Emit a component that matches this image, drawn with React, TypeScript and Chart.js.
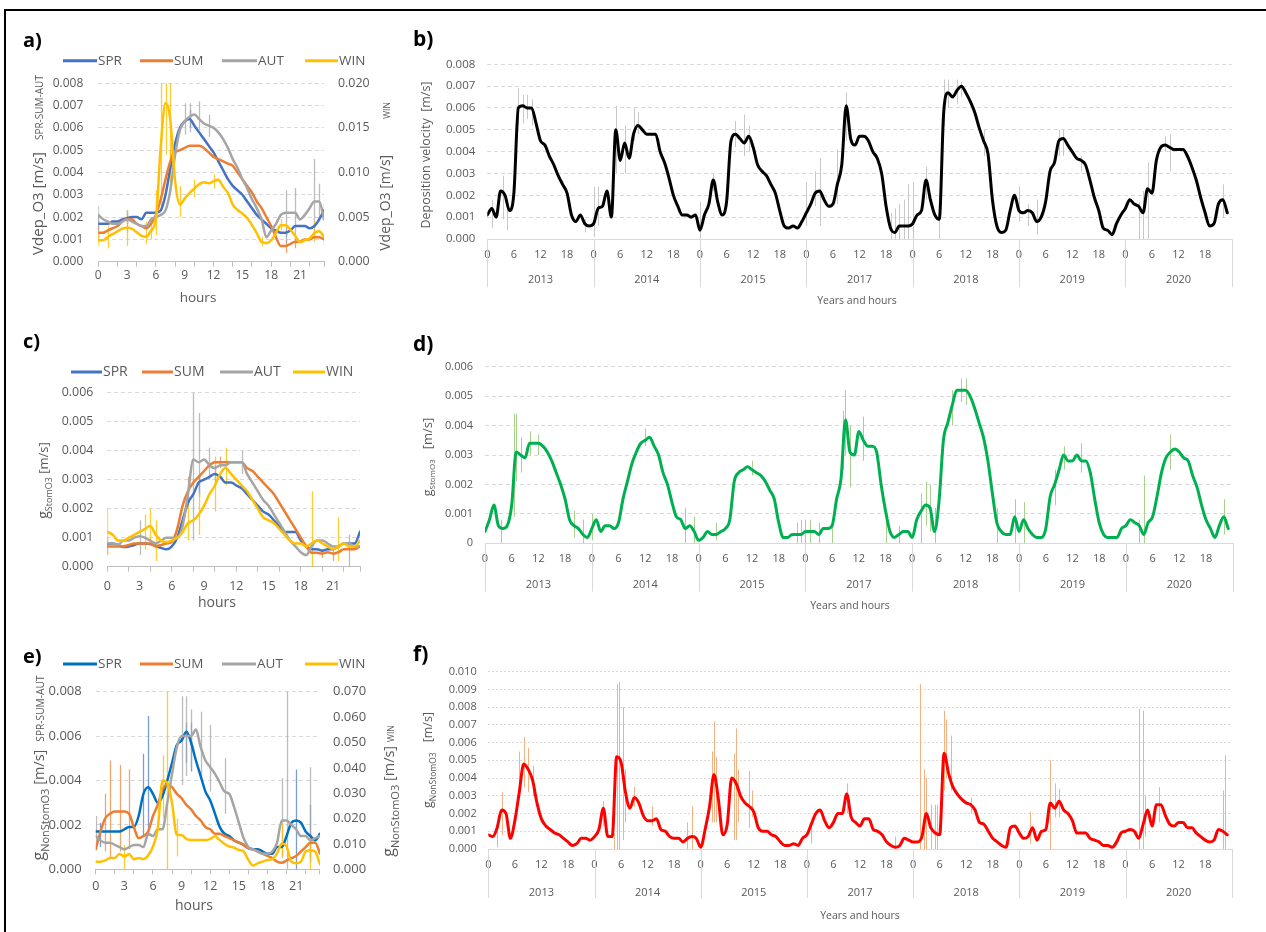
import React, { useEffect, useRef } from "react";
import { Chart, registerables } from "chart.js";

Chart.register(...registerables);

// ---------------- data ----------------
const SEASONS = ["SPR", "SUM", "AUT", "WIN"];
const YEARS = ["2013", "2014", "2015", "2017", "2018", "2019", "2020"];
const HALF_HOURS = [0, 0.5, 1, 1.5, 2, 2.5, 3, 3.5, 4, 4.5, 5, 5.5, 6, 6.5, 7, 7.5, 8, 8.5, 9, 9.5, 10, 10.5, 11, 11.5, 12, 12.5, 13, 13.5, 14, 14.5, 15, 15.5, 16, 16.5, 17, 17.5, 18, 18.5, 19, 19.5, 20, 20.5, 21, 21.5, 22, 22.5, 23, 23.5];
const HOURS = [0, 1, 2, 3, 4, 5, 6, 7, 8, 9, 10, 11, 12, 13, 14, 15, 16, 17, 18, 19, 20, 21, 22, 23];
const SMALL_HOUR_LABELS = [0, 3, 6, 9, 12, 15, 18, 21];
const YEAR_HOUR_LABELS = [0, 6, 12, 18];

// a) Vdep_O3 (SPR/SUM/AUT left axis, WIN right axis)
const A_SPR = [0.0017, 0.0017, 0.0017, 0.0018, 0.0018, 0.0019, 0.00195, 0.002, 0.002, 0.0019, 0.0022, 0.0022, 0.0022, 0.0023, 0.003, 0.0042, 0.0053, 0.006, 0.0063, 0.0064, 0.0061, 0.0058, 0.0055, 0.0052, 0.0049, 0.0045, 0.0041, 0.0037, 0.0034, 0.0032, 0.003, 0.0027, 0.0024, 0.0021, 0.0019, 0.0017, 0.0015, 0.0014, 0.0013, 0.0013, 0.0014, 0.0016, 0.0016, 0.0016, 0.0015, 0.0016, 0.0019, 0.0023];
const A_SUM = [0.0013, 0.0013, 0.0014, 0.0015, 0.0016, 0.0018, 0.0019, 0.0019, 0.0017, 0.0016, 0.0015, 0.0017, 0.0021, 0.0028, 0.0037, 0.0045, 0.0049, 0.005, 0.0051, 0.0052, 0.0052, 0.0052, 0.0051, 0.0049, 0.0047, 0.0046, 0.0045, 0.0044, 0.0043, 0.004, 0.0037, 0.0034, 0.0031, 0.0027, 0.0024, 0.002, 0.0016, 0.0011, 0.0007, 0.0007, 0.0008, 0.0009, 0.0009, 0.001, 0.001, 0.0011, 0.0011, 0.001];
const A_AUT = [0.0021, 0.0019, 0.0018, 0.0017, 0.0017, 0.0018, 0.0019, 0.0018, 0.0017, 0.0016, 0.0016, 0.0019, 0.002, 0.0021, 0.0023, 0.0032, 0.0048, 0.0059, 0.0063, 0.0065, 0.0066, 0.0064, 0.0062, 0.0061, 0.006, 0.0058, 0.0055, 0.0051, 0.0046, 0.0042, 0.0037, 0.0033, 0.0028, 0.0024, 0.0019, 0.0011, 0.0014, 0.0017, 0.0021, 0.0022, 0.0022, 0.0022, 0.0019, 0.0021, 0.0024, 0.0027, 0.0027, 0.0019];
const A_WIN = [0.0024, 0.0024, 0.0028, 0.0031, 0.0034, 0.0037, 0.0038, 0.0037, 0.0033, 0.0029, 0.0028, 0.0035, 0.0048, 0.0129, 0.0178, 0.0159, 0.009, 0.0064, 0.0071, 0.0077, 0.0082, 0.0087, 0.0089, 0.0088, 0.009, 0.0092, 0.0084, 0.0077, 0.0064, 0.0058, 0.0054, 0.0049, 0.0041, 0.0032, 0.0022, 0.0021, 0.0024, 0.0032, 0.0041, 0.0041, 0.0036, 0.0029, 0.0022, 0.0024, 0.0026, 0.0032, 0.0034, 0.0028];
const A_SPR_ERR = [[0, 0.0014, 0.0021], [3, 0.0017, 0.0023], [9.5, 0.006, 0.0068], [19.5, 0.0011, 0.0015], [23.5, 0.0019, 0.0026]];
const A_SUM_ERR = [[0, 0.001, 0.0016], [7.5, 0.004, 0.005], [19.5, 0.0004, 0.001], [20.5, 0.0006, 0.0012], [23.5, 0.0007, 0.0013]];
const A_AUT_ERR = [[0, 0.0017, 0.0025], [3, 0.0013, 0.0021], [9, 0.0057, 0.0071], [9.5, 0.0058, 0.0071], [10.5, 0.0059, 0.0072], [11.5, 0.0056, 0.0066], [19.5, 0.0008, 0.0032], [20.5, 0.0012, 0.0033], [22.5, 0.0012, 0.0046], [23, 0.0018, 0.0035]];
const A_WIN_ERR = [[0, 0.0018, 0.0032], [1, 0.0015, 0.004], [3, 0.0018, 0.0058], [5, 0.002, 0.0045], [5.5, 0.0025, 0.005], [6, 0.003, 0.008], [6.5, 0.006, 0.02], [7, 0.012, 0.02], [7.5, 0.008, 0.02], [8.5, 0.005, 0.0085], [10, 0.0072, 0.0092], [12, 0.0082, 0.0098], [17, 0.0017, 0.0028], [19, 0.0035, 0.0048], [22.5, 0.0022, 0.0045]];

// c) gStomO3
const C_SPR = [0.00078, 0.0008, 0.00075, 0.00068, 0.0007, 0.00075, 0.0008, 0.0008, 0.00078, 0.00072, 0.00065, 0.0006, 0.0007, 0.001, 0.0016, 0.0022, 0.0025, 0.0029, 0.003, 0.0031, 0.0032, 0.0031, 0.0029, 0.0029, 0.0028, 0.0027, 0.0025, 0.0023, 0.0021, 0.0019, 0.0018, 0.0016, 0.0014, 0.0012, 0.0012, 0.0012, 0.0009, 0.0007, 0.0006, 0.0006, 0.00055, 0.0006, 0.0006, 0.0007, 0.0008, 0.0008, 0.0008, 0.0012];
const C_SUM = [0.0007, 0.0007, 0.0007, 0.0007, 0.00075, 0.0008, 0.0008, 0.0008, 0.0008, 0.0007, 0.00075, 0.0008, 0.00086, 0.0013, 0.0021, 0.0026, 0.0029, 0.0031, 0.0033, 0.0035, 0.0036, 0.0036, 0.0036, 0.0036, 0.0036, 0.0036, 0.0034, 0.0033, 0.0031, 0.0029, 0.0027, 0.0025, 0.0022, 0.0019, 0.0016, 0.0013, 0.001, 0.0007, 0.00048, 0.00048, 0.00045, 0.0005, 0.00045, 0.0005, 0.0006, 0.0006, 0.0006, 0.0007];
const C_AUT = [0.0008, 0.0008, 0.00075, 0.0009, 0.0009, 0.001, 0.00105, 0.001, 0.0009, 0.0008, 0.0009, 0.001, 0.001, 0.001, 0.0014, 0.0025, 0.0037, 0.0036, 0.0037, 0.0035, 0.0034, 0.0035, 0.0035, 0.0036, 0.0036, 0.0036, 0.0032, 0.0029, 0.0026, 0.0023, 0.0021, 0.0018, 0.0015, 0.0012, 0.0009, 0.0007, 0.0005, 0.0004, 0.0007, 0.0009, 0.0009, 0.0008, 0.0007, 0.0007, 0.0008, 0.0008, 0.0007, 0.0007];
const C_WIN = [0.0012, 0.0011, 0.0009, 0.0009, 0.001, 0.0011, 0.0012, 0.0013, 0.0014, 0.0011, 0.0009, 0.00085, 0.0009, 0.001, 0.0012, 0.0015, 0.0016, 0.0018, 0.0021, 0.0025, 0.0028, 0.0032, 0.0034, 0.0032, 0.003, 0.0028, 0.0026, 0.0023, 0.002, 0.0017, 0.0016, 0.0015, 0.0013, 0.0011, 0.0009, 0.0008, 0.0008, 0.0007, 0.0008, 0.0009, 0.0008, 0.0007, 0.0006, 0.0007, 0.0008, 0.0007, 0.0007, 0.0009];
const C_SPR_ERR = [[8.5, 0.0025, 0.0032], [10, 0.0029, 0.0035], [23.5, 0.001, 0.0013]];
const C_SUM_ERR = [[0, 0.0004, 0.001], [7.5, 0.0021, 0.0031], [10.5, 0.0034, 0.0038], [20, 0.0003, 0.0006], [21, 0.0002, 0.0006]];
const C_AUT_ERR = [[3, 0.0004, 0.0016], [8, 0.0009, 0.006], [8.5, 0.0024, 0.0053], [9.5, 0.003, 0.0041], [12.5, 0.0032, 0.004], [22.5, 0.0, 0.0011]];
const C_WIN_ERR = [[0, 0.0004, 0.002], [3.5, 0.0006, 0.0018], [4, 0.0008, 0.002], [4.5, 0.0002, 0.0016], [7.5, 0.0009, 0.0022], [8.5, 0.0011, 0.0026], [10, 0.0019, 0.0038], [11, 0.0028, 0.0041], [19, 0.0, 0.0026], [21.5, 0.0002, 0.0017]];

// e) gNonStomO3 (SPR/SUM/AUT left axis, WIN right axis)
const E_SPR = [0.0017, 0.0017, 0.0017, 0.0017, 0.0017, 0.0017, 0.0018, 0.0019, 0.0019, 0.0024, 0.0034, 0.0037, 0.0034, 0.003, 0.0033, 0.004, 0.0048, 0.0056, 0.0058, 0.0062, 0.0057, 0.0049, 0.0042, 0.0035, 0.0031, 0.0025, 0.0019, 0.0016, 0.0015, 0.0013, 0.0012, 0.0011, 0.00095, 0.0009, 0.0009, 0.0008, 0.0007, 0.0007, 0.001, 0.001, 0.0015, 0.0021, 0.0022, 0.0021, 0.0017, 0.0015, 0.0013, 0.0016];
const E_SUM = [0.0009, 0.0017, 0.0023, 0.0025, 0.0026, 0.0026, 0.0026, 0.0025, 0.0019, 0.0014, 0.0015, 0.0017, 0.0024, 0.0029, 0.0036, 0.0038, 0.0037, 0.0034, 0.0032, 0.0029, 0.0027, 0.0024, 0.0022, 0.0019, 0.0018, 0.0016, 0.0016, 0.0015, 0.0014, 0.0013, 0.0012, 0.0011, 0.00095, 0.0009, 0.0008, 0.0007, 0.0006, 0.0005, 0.00035, 0.0003, 0.0004, 0.0005, 0.0006, 0.0008, 0.001, 0.0012, 0.0012, 0.0007];
const E_AUT = [0.0015, 0.0013, 0.0012, 0.0012, 0.0011, 0.001, 0.0009, 0.001, 0.0011, 0.0011, 0.001, 0.0016, 0.0015, 0.0018, 0.0018, 0.003, 0.0043, 0.0055, 0.006, 0.006, 0.006, 0.0063, 0.0055, 0.0049, 0.0046, 0.0043, 0.0039, 0.0035, 0.0034, 0.0028, 0.0021, 0.0014, 0.001, 0.0009, 0.0008, 0.0007, 0.0007, 0.0008, 0.0012, 0.0022, 0.0022, 0.002, 0.0018, 0.0015, 0.0015, 0.0013, 0.0014, 0.0015];
const E_WIN = [0.003, 0.003, 0.0035, 0.0045, 0.0045, 0.006, 0.005, 0.006, 0.004, 0.0045, 0.004, 0.0055, 0.009, 0.016, 0.035, 0.034, 0.026, 0.0135, 0.0135, 0.012, 0.0115, 0.0115, 0.0115, 0.0115, 0.012, 0.013, 0.0115, 0.01, 0.009, 0.0085, 0.0076, 0.007, 0.0037, 0.0015, 0.0024, 0.003, 0.0037, 0.004, 0.0063, 0.0102, 0.009, 0.003, 0.0024, 0.003, 0.007, 0.0075, 0.007, 0.002];
const E_SPR_ERR = [[0.5, 0.001, 0.0021], [5, 0.0015, 0.0052], [5.5, 0.0015, 0.0069], [9.5, 0.0048, 0.0066], [10, 0.0044, 0.0066], [21, 0.0, 0.0045], [22.5, 0.0005, 0.0029]];
const E_SUM_ERR = [[1, 0.0008, 0.0034], [1.5, 0.0005, 0.0049], [2.5, 0.0008, 0.0047], [3.5, 0.0009, 0.0045]];
const E_AUT_ERR = [[0, 0.001, 0.0024], [9, 0.0038, 0.0078], [9.5, 0.0042, 0.0078], [10, 0.0045, 0.0072], [11, 0.004, 0.0071], [12, 0.0035, 0.0065], [13.5, 0.0025, 0.005], [19.5, 0.0005, 0.0041], [20, 0.0, 0.008], [22.5, 0.0003, 0.0046]];
const E_WIN_ERR = [[3, 0.0, 0.0096], [7, 0.02, 0.045], [7.5, 0.0, 0.07], [8.5, 0.005, 0.02], [19.5, 0.005, 0.018], [22.5, 0.0, 0.012]];

// b) Deposition velocity per year (hourly)
const VDEP_2013 = [0.0011, 0.0014, 0.001, 0.0022, 0.002, 0.0013, 0.0021, 0.006, 0.0061, 0.006, 0.006, 0.0053, 0.0045, 0.0043, 0.0038, 0.0034, 0.0029, 0.0025, 0.0021, 0.0011, 0.0008, 0.0011, 0.0007, 0.0006];
const VDEP_2014 = [0.0007, 0.0014, 0.0015, 0.0022, 0.001, 0.005, 0.0036, 0.0044, 0.0037, 0.0048, 0.0052, 0.005, 0.0048, 0.0048, 0.0048, 0.004, 0.0035, 0.0028, 0.002, 0.0015, 0.0011, 0.0011, 0.001, 0.0011];
const VDEP_2015 = [0.0004, 0.0011, 0.0016, 0.0027, 0.0017, 0.0011, 0.0017, 0.0045, 0.0048, 0.0046, 0.0044, 0.0047, 0.0042, 0.0034, 0.0031, 0.0029, 0.0025, 0.0021, 0.0013, 0.0006, 0.0005, 0.0006, 0.0005, 0.0008];
const VDEP_2017 = [0.0012, 0.0016, 0.0021, 0.0022, 0.0018, 0.0015, 0.0016, 0.0025, 0.0034, 0.0061, 0.0046, 0.0043, 0.0047, 0.0047, 0.0045, 0.004, 0.0037, 0.003, 0.0015, 0.0005, 0.0003, 0.0006, 0.0006, 0.0006];
const VDEP_2018 = [0.0007, 0.0011, 0.0013, 0.0027, 0.0018, 0.0011, 0.0009, 0.0058, 0.0067, 0.0065, 0.0068, 0.007, 0.0067, 0.0063, 0.0058, 0.0051, 0.0045, 0.0039, 0.0018, 0.0006, 0.0003, 0.0004, 0.0013, 0.002];
const VDEP_2019 = [0.0013, 0.0012, 0.0013, 0.0012, 0.0008, 0.001, 0.0017, 0.0031, 0.0035, 0.0045, 0.0046, 0.0043, 0.004, 0.0037, 0.0036, 0.0034, 0.0027, 0.0019, 0.0013, 0.0005, 0.0004, 0.0002, 0.0007, 0.0011];
const VDEP_2020 = [0.0014, 0.0018, 0.0016, 0.0015, 0.0012, 0.0023, 0.0021, 0.0036, 0.0042, 0.0043, 0.0042, 0.0041, 0.0041, 0.0041, 0.0038, 0.0033, 0.0027, 0.0019, 0.0012, 0.0006, 0.0007, 0.0016, 0.0018, 0.0012];
const VDEP_ERR = [
  [0, 1, 0.0005, 0.0018], [0, 3.5, 0.0009, 0.0029], [0, 4.5, 0.0004, 0.0017], [0, 7, 0.0052, 0.0069], [0, 8, 0.0053, 0.0066], [0, 9, 0.0055, 0.0066], [0, 10, 0.0052, 0.0064], [0, 22, 0.0003, 0.0009],
  [1, 0, 0.0001, 0.0024], [1, 1, 0.0006, 0.0024], [1, 5, 0.003, 0.0061], [1, 7, 0.003, 0.0052], [1, 9, 0.0045, 0.006], [1, 10, 0.0048, 0.0058],
  [2, 0, 0.0, 0.0017], [2, 3, 0.0022, 0.003], [2, 8, 0.0042, 0.0054], [2, 10, 0.0038, 0.0057], [2, 11, 0.004, 0.0052],
  [3, 0, 0.0006, 0.0026], [3, 2, 0.0015, 0.0031], [3, 3, 0.0006, 0.0037], [3, 7, 0.0016, 0.0041], [3, 9, 0.0045, 0.0067], [3, 19, 0.0, 0.0012], [3, 20, 0.0, 0.0014], [3, 21, 0.0, 0.0016], [3, 22, 0.0, 0.0018], [3, 23, 0.0, 0.0025],
  [4, 0, 0.0, 0.0026], [4, 3, 0.0018, 0.0033], [4, 6, 0.0, 0.0009], [4, 7, 0.0052, 0.0073], [4, 8, 0.006, 0.0073], [4, 10, 0.0062, 0.0073], [4, 11, 0.0065, 0.0072], [4, 16, 0.0038, 0.005],
  [5, 0, 0.0008, 0.0024], [5, 2, 0.0006, 0.0016], [5, 4, 0.0002, 0.0018], [5, 9, 0.0038, 0.005], [5, 10, 0.0038, 0.005], [5, 14, 0.0031, 0.0038],
  [6, 3, 0.0, 0.0017], [6, 4, 0.0, 0.0022], [6, 5, 0.0, 0.0035], [6, 9, 0.004, 0.0047], [6, 10, 0.0031, 0.0048], [6, 22, 0.001, 0.0025],
];

// d) gStomO3 per year (hourly)
const GSTO_2013 = [0.0004, 0.0008, 0.0013, 0.0006, 0.0005, 0.0006, 0.0013, 0.0031, 0.003, 0.0029, 0.0034, 0.0034, 0.0034, 0.0033, 0.0031, 0.0028, 0.0024, 0.002, 0.0015, 0.0008, 0.0006, 0.0005, 0.0003, 0.0002];
const GSTO_2014 = [0.0005, 0.0008, 0.0004, 0.0006, 0.0006, 0.0005, 0.0007, 0.0015, 0.0021, 0.0027, 0.0031, 0.0034, 0.0035, 0.0036, 0.0033, 0.003, 0.0024, 0.002, 0.0014, 0.0009, 0.0008, 0.0005, 0.0006, 0.0004];
const GSTO_2015 = [0.0001, 0.0002, 0.0004, 0.0003, 0.0003, 0.0004, 0.0005, 0.0008, 0.0021, 0.0024, 0.0025, 0.0026, 0.0025, 0.0024, 0.0023, 0.0021, 0.0018, 0.0015, 0.0007, 0.0002, 0.0002, 0.0003, 0.0003, 0.0003];
const GSTO_2017 = [0.0004, 0.0004, 0.0004, 0.0003, 0.0005, 0.0005, 0.0006, 0.0015, 0.0022, 0.0042, 0.0031, 0.003, 0.0038, 0.0035, 0.0033, 0.0033, 0.0031, 0.002, 0.0011, 0.0004, 0.0002, 0.0003, 0.0004, 0.0004];
const GSTO_2018 = [0.0002, 0.0008, 0.0011, 0.0013, 0.0012, 0.0004, 0.0014, 0.0035, 0.0041, 0.0047, 0.0052, 0.0052, 0.0052, 0.005, 0.0046, 0.0041, 0.0036, 0.0028, 0.0017, 0.0007, 0.0004, 0.0003, 0.0003, 0.0009];
const GSTO_2019 = [0.0004, 0.0008, 0.0005, 0.0003, 0.0002, 0.0002, 0.0005, 0.0016, 0.002, 0.0025, 0.003, 0.0028, 0.0028, 0.003, 0.0028, 0.0028, 0.0024, 0.0015, 0.0007, 0.0003, 0.0002, 0.0002, 0.0002, 0.0005];
const GSTO_2020 = [0.0006, 0.0008, 0.0007, 0.0006, 0.0003, 0.0007, 0.0009, 0.0016, 0.0024, 0.0029, 0.0031, 0.0032, 0.0031, 0.0029, 0.0028, 0.0023, 0.0019, 0.0013, 0.0008, 0.0005, 0.0002, 0.0006, 0.0009, 0.0005];
const GSTO_ERR = [
  [0, 3.5, 0.0, 0.0008], [0, 6.5, 0.0009, 0.0044], [0, 7, 0.0021, 0.0044], [0, 8, 0.0024, 0.0036], [0, 10, 0.003, 0.0038], [0, 12, 0.003, 0.0037], [0, 20, 0.0002, 0.0011], [0, 22, 0.0, 0.0008],
  [1, 0, 0.0001, 0.001], [1, 12, 0.0033, 0.0039], [1, 21, 0.0, 0.0012], [1, 23, 0.0, 0.0009],
  [2, 4, 0.0001, 0.0007], [2, 12, 0.0023, 0.0028], [2, 22, 0.0, 0.0007], [2, 23, 0.0, 0.0008],
  [3, 0, 0.0, 0.0008], [3, 1, 0.0, 0.0008], [3, 3, 0.0, 0.0007], [3, 6, 0.0, 0.0008], [3, 8.5, 0.0025, 0.0045], [3, 9, 0.003, 0.0052], [3, 10, 0.0019, 0.004], [3, 13, 0.0028, 0.0043], [3, 18, 0.0, 0.0009], [3, 21, 0.0, 0.0006],
  [4, 2, 0.0, 0.0017], [4, 3, 0.0006, 0.0021], [4, 4, 0.0004, 0.002], [4, 5, 0.0, 0.0012], [4, 9, 0.004, 0.0052], [4, 11, 0.0048, 0.0056], [4, 12, 0.0047, 0.0056], [4, 19, 0.0, 0.0012], [4, 23, 0.0, 0.0015],
  [5, 1, 0.0, 0.0014], [5, 8, 0.0013, 0.0025], [5, 10, 0.0025, 0.0033], [5, 14, 0.0024, 0.0034],
  [6, 3, 0.0, 0.0008], [6, 4, 0.0, 0.0023], [6, 10, 0.0025, 0.0037], [6, 22, 0.0003, 0.0015],
];

// f) gNonStomO3 per year (hourly)
const GNS_2013 = [0.0008, 0.0007, 0.0012, 0.0022, 0.002, 0.0006, 0.0016, 0.0032, 0.0048, 0.0045, 0.0039, 0.0026, 0.0017, 0.0013, 0.0011, 0.0009, 0.0008, 0.0006, 0.0004, 0.0002, 0.0003, 0.0006, 0.0006, 0.0005];
const GNS_2014 = [0.0007, 0.0011, 0.0023, 0.0007, 0.0007, 0.0052, 0.0049, 0.0032, 0.0023, 0.0029, 0.0026, 0.0019, 0.0016, 0.0016, 0.0017, 0.0011, 0.001, 0.0007, 0.0006, 0.0006, 0.0004, 0.0006, 0.0007, 0.0006];
const GNS_2015 = [0.0001, 0.0011, 0.0024, 0.0042, 0.0028, 0.0008, 0.0014, 0.004, 0.0037, 0.003, 0.0026, 0.0024, 0.0021, 0.0012, 0.001, 0.001, 0.0008, 0.0007, 0.0004, 0.0002, 0.0002, 0.0003, 0.0002, 0.0006];
const GNS_2017 = [0.0008, 0.0014, 0.002, 0.0022, 0.0016, 0.0012, 0.0015, 0.002, 0.002, 0.0031, 0.0018, 0.0015, 0.0013, 0.0017, 0.0017, 0.0011, 0.001, 0.0008, 0.0004, 0.0002, 0.0001, 0.0002, 0.0006, 0.0005];
const GNS_2018 = [0.0004, 0.0004, 0.0007, 0.002, 0.0012, 0.0009, 0.0008, 0.0054, 0.0043, 0.0035, 0.0031, 0.0028, 0.0026, 0.0025, 0.0022, 0.0015, 0.0014, 0.001, 0.0006, 0.0004, 0.0002, 0.0001, 0.0012, 0.0013];
const GNS_2019 = [0.0009, 0.0006, 0.0007, 0.0012, 0.0005, 0.001, 0.0011, 0.0026, 0.0023, 0.0027, 0.0022, 0.002, 0.0016, 0.0009, 0.0009, 0.0009, 0.0006, 0.0005, 0.0004, 0.0002, 0.0002, 0.0001, 0.0004, 0.0009];
const GNS_2020 = [0.001, 0.0011, 0.001, 0.0006, 0.0014, 0.0022, 0.0013, 0.0025, 0.0025, 0.0019, 0.0014, 0.0013, 0.0015, 0.0015, 0.0012, 0.0012, 0.0009, 0.0007, 0.0005, 0.0004, 0.0005, 0.0011, 0.001, 0.0008];
const GNS_ERR = [
  [0, 2, 0.0001, 0.0011], [0, 3, 0.0008, 0.0032], [0, 7, 0.0035, 0.0055], [0, 8, 0.0035, 0.0063], [0, 9, 0.0032, 0.0057], [0, 10, 0.003, 0.0047],
  [1, 2, 0.0013, 0.0027], [1, 4.5, 0.0, 0.0009], [1, 5, 0.0, 0.0093], [1, 5.5, 0.0, 0.0094], [1, 6.5, 0.0005, 0.008], [1, 7, 0.0015, 0.0045], [1, 9, 0.0024, 0.0035], [1, 13, 0.0013, 0.0024], [1, 21, 0.0, 0.0015], [1, 22, 0.0, 0.0024],
  [2, 2.5, 0.0015, 0.0055], [2, 3, 0.0015, 0.0072], [2, 3.5, 0.0015, 0.0052], [2, 7.5, 0.0005, 0.0054], [2, 8, 0.0005, 0.0068], [2, 8.5, 0.0015, 0.0045], [2, 11, 0.0012, 0.0044], [2, 11.5, 0.0018, 0.0033],
  [3, 1, 0.0003, 0.0016], [3, 9, 0.002, 0.0037], [3, 20, 0.0, 0.0007],
  [4, 1.6, 0.0, 0.0093], [4, 2.5, 0.0, 0.0045], [4, 3, 0.0, 0.004], [4, 4, 0.0, 0.0025], [4, 5, 0.0, 0.0025], [4, 5.5, 0.0, 0.0025], [4, 7, 0.0033, 0.0078], [4, 7.5, 0.004, 0.0073], [4, 8.5, 0.0033, 0.0064], [4, 13, 0.002, 0.0029],
  [5, 2.5, 0.0003, 0.0021], [5, 7, 0.0, 0.005], [5, 8, 0.0018, 0.0037], [5, 9, 0.0018, 0.0034],
  [6, 3, 0.0, 0.0079], [6, 4, 0.0, 0.0078], [6, 4.5, 0.0007, 0.003], [6, 7.5, 0.0015, 0.0035], [6, 22, 0.0, 0.0033], [6, 22.5, 0.0, 0.0053],
];

// ---------------- styling ----------------
const W = 1266;
const H = 932;
const YW = 60;
const XH = 40;
const FONT = "'Open Sans', 'DejaVu Sans', sans-serif";
const TXT = "#595959";
const GRID = "#D9D9D9";
const AXIS = "#BFBFBF";
const SEASON_COLORS = ["#4472C4", "#ED7D31", "#A5A5A5", "#FFC000"];
const SEASON_ERR = ["rgba(68,114,196,0.7)", "rgba(237,125,49,0.7)", "rgba(165,165,165,0.75)", "rgba(255,192,0,0.8)"];

const halfPts = (vals: number[]) => HALF_HOURS.map((h, i) => ({ x: h, y: vals[i] }));
const yearPts = (years: number[][]) =>
  years.flatMap((vals, yi) => HOURS.map((h, i) => ({ x: yi * 24 + h, y: vals[i] })));
const yearErr = (list: number[][]) => list.map((e) => [e[0] * 24 + e[1], e[2], e[3]]);

function drawRich(ctx: any, tx: any) {
  const { parts, x, y, rot = 0, color = TXT, align = "center" } = tx;
  ctx.save();
  ctx.translate(x, y);
  if (rot) ctx.rotate((rot * Math.PI) / 180);
  ctx.fillStyle = color;
  ctx.textBaseline = "alphabetic";
  ctx.textAlign = "left";
  const fontOf = (p: any) => `${p.w || "normal"} ${p.s}px ${FONT}`;
  const widths = parts.map((p: any) => {
    if (p.gap) return p.gap;
    ctx.font = fontOf(p);
    return ctx.measureText(p.t).width;
  });
  const total = widths.reduce((a: number, b: number) => a + b, 0);
  let cx = align === "center" ? -total / 2 : align === "right" ? -total : 0;
  parts.forEach((p: any, i: number) => {
    if (!p.gap) {
      ctx.font = fontOf(p);
      ctx.fillText(p.t, cx, p.sub ? p.s * 0.45 : 0);
    }
    cx += widths[i];
  });
  ctx.restore();
}

function makeDecor(cfg: any) {
  return {
    id: "decor",
    beforeDatasetsDraw(chart: any) {
      const { ctx, chartArea: a } = chart;
      ctx.save();
      ctx.beginPath();
      ctx.rect(a.left, a.top - 1, a.right - a.left, a.bottom - a.top + 1);
      ctx.clip();
      chart.data.datasets.forEach((ds: any) => {
        if (!ds.errorBars) return;
        const ys = chart.scales[ds.yAxisID || "y"];
        const xs = chart.scales.x;
        ctx.strokeStyle = ds.errorColor;
        ctx.lineWidth = ds.errorWidth || 1;
        ds.errorBars.forEach((e: number[]) => {
          const px = Math.round(xs.getPixelForValue(e[0])) + 0.5;
          ctx.beginPath();
          ctx.moveTo(px, ys.getPixelForValue(e[1]));
          ctx.lineTo(px, ys.getPixelForValue(e[2]));
          ctx.stroke();
        });
      });
      ctx.restore();
    },
    afterDraw(chart: any) {
      const ctx = chart.ctx;
      ctx.save();
      if (cfg.years) {
        const Y = cfg.years;
        const xs = chart.scales.x;
        const b = chart.chartArea.bottom;
        ctx.strokeStyle = GRID;
        ctx.lineWidth = 1;
        for (let i = 0; i <= Y.labels.length; i++) {
          const px = Math.round(xs.getPixelForValue(i * 24)) + 0.5;
          ctx.beginPath();
          ctx.moveTo(px, b);
          ctx.lineTo(px, b + Y.sepLen);
          ctx.stroke();
        }
        ctx.fillStyle = TXT;
        ctx.font = `${Y.size}px ${FONT}`;
        ctx.textAlign = "center";
        ctx.textBaseline = "alphabetic";
        Y.labels.forEach((lab: string, i: number) => {
          ctx.fillText(lab, xs.getPixelForValue(i * 24 + 12), Y.baseline);
        });
      }
      if (cfg.legend) {
        const L = cfg.legend;
        chart.data.datasets.forEach((ds: any, i: number) => {
          const [x1, x2] = L.xs[i];
          ctx.strokeStyle = ds.borderColor;
          ctx.lineWidth = 3;
          ctx.beginPath();
          ctx.moveTo(x1, L.y);
          ctx.lineTo(x2, L.y);
          ctx.stroke();
          ctx.fillStyle = TXT;
          ctx.font = `${L.size}px ${FONT}`;
          ctx.textAlign = "left";
          ctx.textBaseline = "middle";
          ctx.fillText(ds.label, x2 + 1, L.y + 0.5);
        });
      }
      (cfg.texts || []).forEach((t: any) => drawRich(ctx, t));
      ctx.restore();
    },
  };
}

function yScale(o: any) {
  return {
    type: "linear",
    position: o.pos || "left",
    min: 0,
    max: o.max,
    afterFit: (s: any) => {
      s.width = YW;
    },
    ticks: {
      stepSize: o.step,
      color: TXT,
      font: { family: FONT, size: o.size },
      padding: o.pad,
      callback: o.fmt || ((v: any) => Number(v).toFixed(3)),
    },
    grid: {
      drawOnChartArea: o.grid !== false,
      drawTicks: false,
      color: (c: any) => (c.tick && c.tick.value === 0 ? "rgba(0,0,0,0)" : GRID),
      lineWidth: 1,
    },
    border: { display: false, dash: o.dash || [4, 3] },
  };
}

function baseOptions(area: any, hasY2: boolean, scales: any) {
  return {
    responsive: false,
    animation: false,
    devicePixelRatio: 1,
    events: [],
    layout: {
      padding: {
        left: area.l - YW,
        right: W - area.r - (hasY2 ? YW : 0),
        top: area.t,
        bottom: H - area.b - XH,
      },
    },
    plugins: { legend: { display: false }, tooltip: { enabled: false }, title: { display: false } },
    elements: { point: { radius: 0 }, line: { borderJoinStyle: "round", borderCapStyle: "round" } },
    scales,
  };
}

function smallX(fontSize: number, pad: number) {
  return {
    type: "linear",
    min: 0,
    max: 23.5,
    afterFit: (s: any) => {
      s.height = XH;
    },
    ticks: {
      stepSize: 1,
      autoSkip: false,
      maxRotation: 0,
      minRotation: 0,
      color: TXT,
      font: { family: FONT, size: fontSize },
      padding: pad,
      callback: (v: any) => (SMALL_HOUR_LABELS.includes(v) ? String(v) : ""),
    },
    grid: {
      drawOnChartArea: false,
      drawTicks: true,
      tickLength: 5,
      color: (c: any) => {
        const v = c.tick ? c.tick.value : -1;
        return v % 2 === 0 || v === 23.5 ? AXIS : "rgba(0,0,0,0)";
      },
    },
    border: { display: true, color: AXIS, width: 1 },
  };
}

function yearX() {
  return {
    type: "linear",
    min: 0,
    max: YEARS.length * 24,
    afterFit: (s: any) => {
      s.height = XH;
    },
    ticks: {
      stepSize: 6,
      autoSkip: false,
      maxRotation: 0,
      minRotation: 0,
      color: TXT,
      font: { family: FONT, size: 11 },
      padding: 9,
      callback: (v: any) => (v < YEARS.length * 24 && YEAR_HOUR_LABELS.includes(v % 24) ? String(v % 24) : ""),
    },
    grid: { drawOnChartArea: false, drawTicks: false },
    border: { display: true, color: GRID, width: 1 },
  };
}

function seasonSets(series: number[][], errs: number[][][], colors: string[], winAxis: string) {
  return series.map((vals, i) => ({
    label: SEASONS[i],
    data: halfPts(vals),
    borderColor: colors[i],
    backgroundColor: colors[i],
    borderWidth: 2.5,
    yAxisID: i === 3 ? winAxis : "y",
    cubicInterpolationMode: "monotone",
    order: 3 - i,
    errorBars: errs[i],
    errorColor: SEASON_ERR[i],
    errorWidth: 1.3,
  }));
}

function cfgA() {
  const area = { l: 98.3, r: 324, t: 83.3, b: 261.7 };
  return {
    type: "line",
    data: { datasets: seasonSets([A_SPR, A_SUM, A_AUT, A_WIN], [A_SPR_ERR, A_SUM_ERR, A_AUT_ERR, A_WIN_ERR], SEASON_COLORS, "y2") },
    options: baseOptions(area, true, {
      x: smallX(12, 2),
      y: yScale({ max: 0.008, step: 0.001, size: 12, pad: 15 }),
      y2: yScale({ pos: "right", max: 0.02, step: 0.005, size: 12.4, pad: 14, grid: false }),
    }),
    plugins: [
      makeDecor({
        legend: { y: 60.7, size: 13.5, xs: [[63, 97], [140, 173], [222, 257], [305, 338]] },
        texts: [
          { parts: [{ t: "a)", s: 20, w: "bold" }], x: 23, y: 46.5, color: "#000", align: "left" },
          { parts: [{ t: "Vdep_O3 [m/s]", s: 15 }, { gap: 12 }, { t: "SPR-SUM-AUT", s: 10 }], x: 42.5, y: 165, rot: -90 },
          { parts: [{ t: "Vdep_O3 [m/s]", s: 14 }, { gap: 36 }, { t: "WIN", s: 8.5 }], x: 390, y: 176.5, rot: -90 },
          { parts: [{ t: "hours", s: 13.5 }], x: 198, y: 302 },
        ],
      }),
    ],
  };
}

function cfgC() {
  const area = { l: 107.3, r: 360, t: 392.7, b: 566.7 };
  return {
    type: "line",
    data: { datasets: seasonSets([C_SPR, C_SUM, C_AUT, C_WIN], [C_SPR_ERR, C_SUM_ERR, C_AUT_ERR, C_WIN_ERR], SEASON_COLORS, "y") },
    options: baseOptions(area, false, {
      x: smallX(12.5, 7),
      y: yScale({ max: 0.006, step: 0.001, size: 12.4, pad: 14 }),
    }),
    plugins: [
      makeDecor({
        legend: { y: 372, size: 14, xs: [[71, 102], [142, 173], [220, 253], [293, 325]] },
        texts: [
          { parts: [{ t: "c)", s: 20, w: "bold" }], x: 23, y: 348, color: "#000", align: "left" },
          { parts: [{ t: "g", s: 14 }, { t: "StomO3", s: 9, sub: true }, { t: " [m/s]", s: 13 }], x: 48, y: 480.5, rot: -90 },
          { parts: [{ t: "hours", s: 14 }], x: 217, y: 607 },
        ],
      }),
    ],
  };
}

function cfgE() {
  const area = { l: 95.7, r: 320, t: 691.7, b: 869.3 };
  const colors = ["#0070C0", SEASON_COLORS[1], SEASON_COLORS[2], SEASON_COLORS[3]];
  return {
    type: "line",
    data: { datasets: seasonSets([E_SPR, E_SUM, E_AUT, E_WIN], [E_SPR_ERR, E_SUM_ERR, E_AUT_ERR, E_WIN_ERR], colors, "y2") },
    options: baseOptions(area, true, {
      x: smallX(12.5, 4.4),
      y: yScale({ max: 0.008, step: 0.002, size: 13, pad: 14 }),
      y2: yScale({ pos: "right", max: 0.07, step: 0.01, size: 13, pad: 13, grid: false }),
    }),
    plugins: [
      makeDecor({
        legend: { y: 664, size: 13.5, xs: [[63, 97], [140, 173], [222, 256], [305, 338]] },
        texts: [
          { parts: [{ t: "e)", s: 20, w: "bold" }], x: 23, y: 663, color: "#000", align: "left" },
          {
            parts: [{ t: "g", s: 16 }, { t: "NonStomO3", s: 11, sub: true }, { t: " [m/s]", s: 14.5 }, { gap: 8 }, { t: "SPR-SUM-AUT", s: 10.2 }],
            x: 44,
            y: 768,
            rot: -90,
          },
          {
            parts: [{ t: "g", s: 16 }, { t: "NonStomO3", s: 11, sub: true }, { t: " [m/s]", s: 14.5 }, { gap: 4 }, { t: "WIN", s: 8.5 }],
            x: 394,
            y: 791,
            rot: -90,
          },
          { parts: [{ t: "hours", s: 14 }], x: 194, y: 910 },
        ],
      }),
    ],
  };
}

function yearCfg(o: any) {
  return {
    type: "line",
    data: {
      datasets: [
        {
          label: o.label,
          data: yearPts(o.years),
          borderColor: o.color,
          backgroundColor: o.color,
          borderWidth: 3,
          cubicInterpolationMode: "monotone",
          errorBars: yearErr(o.err),
          errorColor: o.errColor,
          errorWidth: 1,
        },
      ],
    },
    options: baseOptions(o.area, false, {
      x: yearX(),
      y: yScale({ max: o.max, step: 0.001, size: o.tickSize, pad: o.pad, fmt: o.fmt, dash: o.dash }),
    }),
    plugins: [
      makeDecor({
        years: { labels: YEARS, sepLen: o.sepLen, baseline: o.yearBaseline, size: 11 },
        texts: o.texts,
      }),
    ],
  };
}

function cfgB() {
  return yearCfg({
    label: "Deposition velocity",
    years: [VDEP_2013, VDEP_2014, VDEP_2015, VDEP_2017, VDEP_2018, VDEP_2019, VDEP_2020],
    err: VDEP_ERR,
    color: "#000000",
    errColor: "#C8C8C8",
    area: { l: 487.3, r: 1231.7, t: 64.3, b: 239 },
    max: 0.008,
    tickSize: 11.5,
    pad: 12,
    sepLen: 48,
    yearBaseline: 283,
    texts: [
      { parts: [{ t: "b)", s: 21, w: "bold" }], x: 413, y: 46, color: "#000", align: "left" },
      { parts: [{ t: "Deposition velocity  [m/s]", s: 12.5 }], x: 429.5, y: 155, rot: -90 },
      { parts: [{ t: "Years and hours", s: 10.5 }], x: 857, y: 304 },
    ],
  });
}

function cfgD() {
  return yearCfg({
    label: "gStomO3",
    years: [GSTO_2013, GSTO_2014, GSTO_2015, GSTO_2017, GSTO_2018, GSTO_2019, GSTO_2020],
    err: GSTO_ERR,
    color: "#00B050",
    errColor: "#A9D18E",
    area: { l: 485, r: 1232.7, t: 366.7, b: 543.3 },
    max: 0.006,
    tickSize: 11,
    pad: 12,
    fmt: (v: any) => (Number(v) === 0 ? "0" : Number(v).toFixed(3)),
    sepLen: 48.4,
    yearBaseline: 588,
    texts: [
      { parts: [{ t: "d)", s: 21, w: "bold" }], x: 413, y: 351, color: "#000", align: "left" },
      { parts: [{ t: "g", s: 12.5 }, { t: "StomO3", s: 8, sub: true }, { gap: 10 }, { t: "[m/s]", s: 13 }], x: 431.5, y: 457, rot: -90 },
      { parts: [{ t: "Years and hours", s: 10.5 }], x: 850, y: 608.5 },
    ],
  });
}

function cfgF() {
  return yearCfg({
    label: "gNonStomO3",
    years: [GNS_2013, GNS_2014, GNS_2015, GNS_2017, GNS_2018, GNS_2019, GNS_2020],
    err: GNS_ERR,
    color: "#FF0000",
    errColor: "#F4B183",
    area: { l: 488.3, r: 1231.7, t: 671.7, b: 849 },
    max: 0.01,
    tickSize: 11,
    pad: 11.6,
    dash: [2, 2],
    sepLen: 49,
    yearBaseline: 895.5,
    texts: [
      { parts: [{ t: "f)", s: 21, w: "bold" }], x: 413, y: 661, color: "#000", align: "left" },
      { parts: [{ t: "g", s: 12.5 }, { t: "NonStomO3", s: 8.5, sub: true }, { gap: 10 }, { t: "[m/s]", s: 12.5 }], x: 432, y: 760, rot: -90 },
      { parts: [{ t: "Years and hours", s: 10.5 }], x: 860, y: 919 },
    ],
  });
}

export default function App() {
  const refs = useRef<(HTMLCanvasElement | null)[]>([]);
  useEffect(() => {
    const configs = [cfgA(), cfgB(), cfgC(), cfgD(), cfgE(), cfgF()];
    const charts = configs.map((c, i) => new Chart(refs.current[i] as HTMLCanvasElement, c as any));
    return () => charts.forEach((c) => c.destroy());
  }, []);
  return (
    <div style={{ position: "absolute", left: 0, top: 0, width: W, height: H, background: "#fff", overflow: "hidden" }}>
      <div
        style={{
          position: "absolute",
          left: 4,
          top: 9,
          width: W - 4,
          height: H - 9,
          borderTop: "2px solid #000",
          borderLeft: "2px solid #000",
          boxSizing: "border-box",
        }}
      />
      {[0, 1, 2, 3, 4, 5].map((i) => (
        <canvas
          key={i}
          ref={(el) => {
            refs.current[i] = el;
          }}
          width={W}
          height={H}
          style={{ position: "absolute", left: 0, top: 0 }}
        />
      ))}
    </div>
  );
}
